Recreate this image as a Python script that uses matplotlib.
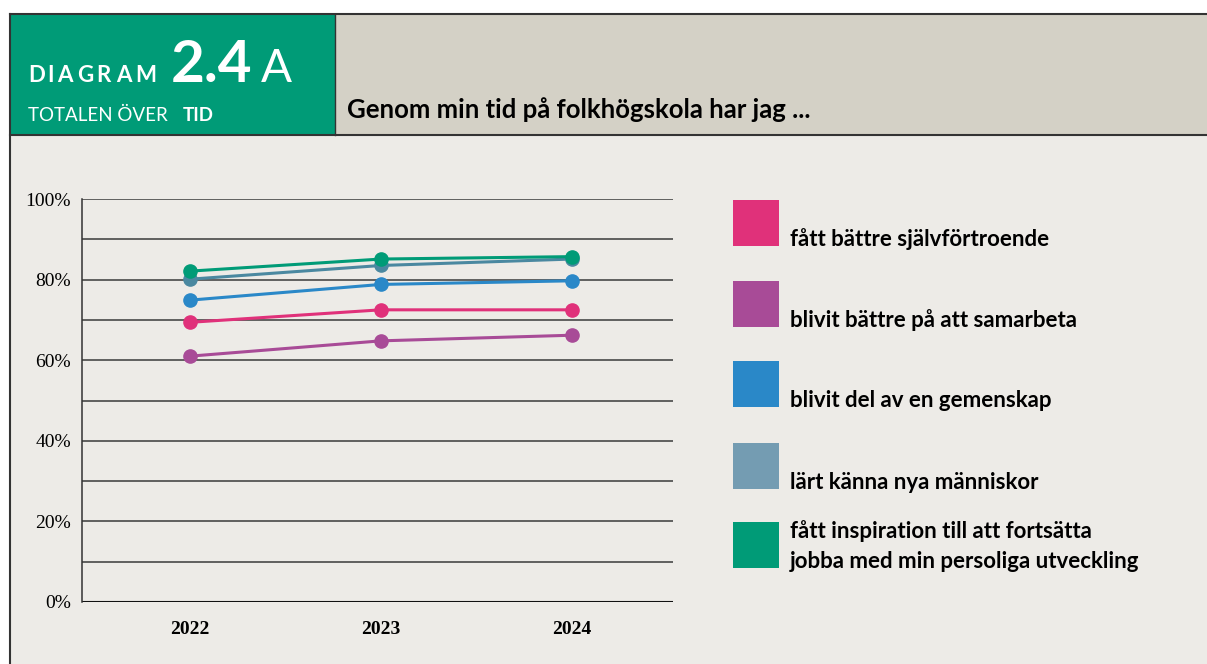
import matplotlib
matplotlib.use("Agg")
import matplotlib.pyplot as plt
from matplotlib.patches import Rectangle
from matplotlib.ticker import FuncFormatter

# Data
years = [2022, 2023, 2024]
labels = [
    "fått bättre självförtroende",
    "blivit bättre på att samarbeta",
    "blivit del av en gemenskap",
    "lärt känna nya människor",
    "fått inspiration till att fortsätta\njobba med min persoliga utveckling",
]
confidence = [69.4, 72.5, 72.5]
cooperation = [61.0, 64.8, 66.2]
community = [74.9, 78.8, 79.7]
new_people = [80.1, 83.5, 85.1]
inspiration = [82.1, 85.1, 85.7]
series = [confidence, cooperation, community, new_people, inspiration]

line_colors = ["#E0317A", "#A84B97", "#2A88C8", "#4A88A0", "#009B77"]
legend_colors = ["#E0317A", "#A84B97", "#2A88C8", "#749CB2", "#009B77"]
yticks = [0, 20, 40, 60, 80, 100]

W, H = 1207, 664
GREEN = "#009B77"
HEADER_GRAY = "#D4D1C6"
BODY = "#EDEBE7"
EDGE = "#333333"
SANS = "Lato"
SERIF = "Liberation Serif"

fig = plt.figure(figsize=(W / 100, H / 100), dpi=100)
fig.patch.set_facecolor("white")

# background axes in pixel coordinates
bg = fig.add_axes([0, 0, 1, 1])
bg.set_xlim(0, W)
bg.set_ylim(H, 0)
bg.axis("off")

bg.add_patch(Rectangle((10, 14), W - 10, H - 14, facecolor=BODY, edgecolor="none"))
bg.add_patch(Rectangle((335, 14), W - 335, 121, facecolor=HEADER_GRAY, edgecolor="none"))
bg.add_patch(Rectangle((10, 14), 325, 121, facecolor=GREEN, edgecolor="none"))
bg.plot([10, W], [14, 14], color=EDGE, lw=1.5)
bg.plot([10, W], [135, 135], color=EDGE, lw=1.5)
bg.plot([10, 10], [14, H], color=EDGE, lw=1.5)
bg.plot([335, 335], [14, 135], color=EDGE, lw=1)

# header texts
x = 28
for ch in "DIAGRAM":
    bg.text(x, 82, ch, color="white", fontsize=16, fontweight="bold",
            family=SANS, va="baseline", ha="left")
    x += {"I": 10, "M": 22}.get(ch, 19.5)
bg.text(171, 82, "2.4", color="white", fontsize=42, fontweight="bold",
        family=SANS, va="baseline", ha="left")
bg.text(261, 82, "A", color="white", fontsize=33, family=SANS,
        va="baseline", ha="left")
bg.text(28, 121, "TOTALEN ÖVER", color="white", fontsize=13.5, family=SANS,
        va="baseline", ha="left")
bg.text(183, 121, "TID", color="white", fontsize=13.5, fontweight="bold",
        family=SANS, va="baseline", ha="left")
bg.text(347, 118, "Genom min tid på folkhögskola har jag ...", color="black",
        fontsize=18.5, fontweight="bold", family=SANS, va="baseline", ha="left")

# legend
sq_tops = [200, 281, 361, 443, 522]
for top, lab, col in zip(sq_tops, labels, legend_colors):
    bg.add_patch(Rectangle((733, top), 46, 46, facecolor=col, edgecolor="none"))
    lines = lab.split("\n")
    if len(lines) == 2:
        bases = [top + 16, top + 46]
    else:
        bases = [top + 46]
    for base, txt in zip(bases, lines):
        bg.text(790, base, txt, fontsize=16, fontweight="bold", family=SANS,
                va="baseline", ha="left")

# chart axes
ax = fig.add_axes([82 / W, (H - 602) / H, (673 - 82) / W, (602 - 199) / H])
ax.patch.set_alpha(0)
for y in range(10, 101, 10):
    ax.axhline(y, color="#3a3a3a", lw=1.1, zorder=1)
ax.axhline(0, color="#111111", lw=1.5, zorder=1)

for vals, col in zip(series, line_colors):
    ax.plot(years, vals, color=col, lw=2.2, marker="o", markersize=9.5,
            zorder=3, solid_capstyle="round")

ax.set_xlim(2021.435, 2024.53)
ax.set_ylim(0, 100)
ax.set_yticks(yticks)
ax.yaxis.set_major_formatter(FuncFormatter(lambda v, p: f"{int(v)}%"))
ax.set_xticks(years)
ax.set_xticklabels([str(y) for y in years])
ax.tick_params(axis="y", length=0, pad=8, labelsize=14)
ax.tick_params(axis="x", length=0, pad=14, labelsize=14)
for lab in ax.get_yticklabels():
    lab.set_family(SERIF)
for lab in ax.get_xticklabels():
    lab.set_family(SERIF)
    lab.set_fontweight("bold")
for s in ["top", "right", "bottom"]:
    ax.spines[s].set_visible(False)
ax.spines["left"].set_color("#333333")
ax.spines["left"].set_linewidth(1.1)

fig.savefig("out.png", dpi=100, facecolor=fig.get_facecolor())
